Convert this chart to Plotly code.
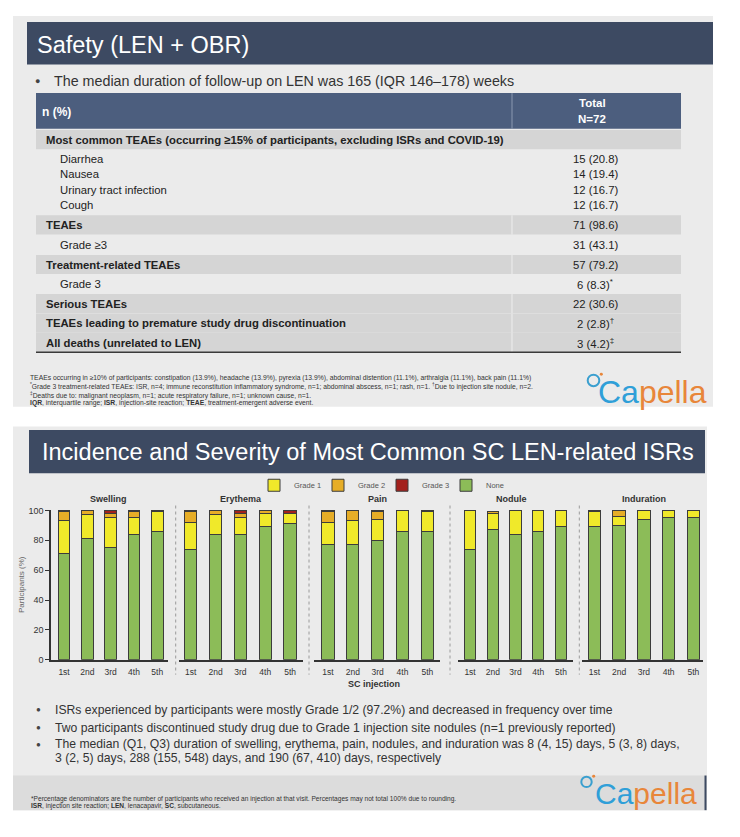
import plotly.graph_objects as go

# The page body has an 8px margin; positions below are given in page pixels.
PAGE_MARGIN = 8
W, H = 740 - 2 * PAGE_MARGIN, 837 - 2 * PAGE_MARGIN
def X(p):
    return (p - PAGE_MARGIN) / W
def Y(p):
    return 1 - (p - PAGE_MARGIN) / H

FONT = "Liberation Sans, Arial, sans-serif"

# ---------------- data ----------------
injections = ["1st", "2nd", "3rd", "4th", "5th"]
isr_types = ["Swelling", "Erythema", "Pain", "Nodule", "Induration"]
grade_names = ["None", "Grade 1", "Grade 2", "Grade 3"]

pct_none = {
    "Swelling":   [71, 81, 75, 84, 86],
    "Erythema":   [74, 84, 84, 89, 91],
    "Pain":       [77, 77, 80, 86, 86],
    "Nodule":     [74, 87, 84, 86, 89],
    "Induration": [89, 90, 94, 95, 95],
}
pct_grade1 = {
    "Swelling":   [22, 16, 20, 11, 13],
    "Erythema":   [18, 13, 11, 9, 7],
    "Pain":       [15, 16, 14, 14, 13],
    "Nodule":     [26, 11, 16, 14, 11],
    "Induration": [10, 6, 6, 5, 5],
}
pct_grade2 = {
    "Swelling":   [6, 3, 3, 4, 1],
    "Erythema":   [7, 3, 3, 2, 0],
    "Pain":       [7, 7, 5, 0, 1],
    "Nodule":     [0, 1, 0, 0, 0],
    "Induration": [1, 4, 0, 0, 0],
}
pct_grade3 = {
    "Swelling":   [1, 0, 2, 1, 0],
    "Erythema":   [1, 0, 2, 0, 2],
    "Pain":       [1, 0, 1, 0, 0],
    "Nodule":     [0, 0, 0, 0, 0],
    "Induration": [0, 0, 0, 0, 0],
}
y_ticks = [0, 20, 40, 60, 80, 100]

table_labels = [
    "Most common TEAEs (occurring ≥15% of participants, excluding ISRs and COVID-19)",
    "Diarrhea", "Nausea", "Urinary tract infection", "Cough",
    "TEAEs", "Grade ≥3", "Treatment-related TEAEs", "Grade 3",
    "Serious TEAEs", "TEAEs leading to premature study drug discontinuation",
    "All deaths (unrelated to LEN)",
]
table_values = [
    "", "15 (20.8)", "14 (19.4)", "12 (16.7)", "12 (16.7)",
    "71 (98.6)", "31 (43.1)", "57 (79.2)", "6 (8.3)<sup>*</sup>",
    "22 (30.6)", "2 (2.8)<sup>†</sup>", "3 (4.2)<sup>‡</sup>",
]
table_bold = [True, False, False, False, False, True, False, True, False, True, True, True]

# ---------------- styles ----------------
grade_colors = {"None": "#8cbc58", "Grade 1": "#f0e92a", "Grade 2": "#e6ad27", "Grade 3": "#a3201c"}
legend_rank = {"Grade 1": 1, "Grade 2": 2, "Grade 3": 3, "None": 4}
grade_data = {"None": pct_none, "Grade 1": pct_grade1, "Grade 2": pct_grade2, "Grade 3": pct_grade3}

SLIDE_BG = "#ebebeb"
TITLE_BG = "#3d4a62"
HEAD_BG = "#4c5e7e"
ROW_BG = "#d5d5d5"

fig = go.Figure()

for i, isr in enumerate(isr_types):
    xa = "x" if i == 0 else f"x{i+1}"
    for g in grade_names:
        vals = [v if v > 0 else None for v in grade_data[g][isr]]
        fig.add_trace(go.Bar(
            x=injections, y=vals, name=g, xaxis=xa, yaxis="y",
            marker=dict(color=grade_colors[g], line=dict(color="#3c3c3c", width=1)),
            showlegend=(i == 0), legendrank=legend_rank[g],
            hovertemplate=isr + " %{x}: %{y}%<extra>" + g + "</extra>",
        ))

# panel geometry: (left px, right px, range start, range end)
panels = [(51, 168, -0.56, 4.46), (179, 303, -0.47, 4.52), (314, 440, -0.56, 4.51),
          (458, 573, -0.53, 4.53), (582, 703, -0.50, 4.39)]
title_cx = [108.7, 240.8, 377.5, 511.7, 643.7]

axis_common = dict(showline=True, linecolor="#333333", linewidth=1.5, showgrid=False,
                   zeroline=False, fixedrange=True)
for i, (a, b, r0, r1) in enumerate(panels):
    key = "xaxis" if i == 0 else f"xaxis{i+1}"
    fig.layout[key] = dict(domain=[X(a), X(b)], anchor="y", range=[r0, r1], type="category",
                           ticks="outside", ticklen=3, tickcolor="rgba(0,0,0,0)",
                           tickfont=dict(size=8.5, color="#333333", family=FONT), **axis_common)

fig.update_layout(
    yaxis=dict(domain=[Y(663), Y(511.2)], anchor="x", range=[0, 100.5], tickvals=y_ticks,
               ticks="outside", ticklen=4, tickwidth=1, tickcolor="#333333",
               tickfont=dict(size=9, color="#333333", family=FONT),
               title=dict(text="Participants (%)", font=dict(size=8, color="#666666", family=FONT), standoff=3),
               **axis_common),
    barmode="stack", bargap=0.5,
    width=W, height=H, margin=dict(l=0, r=0, t=0, b=0),
    paper_bgcolor="white", plot_bgcolor="rgba(0,0,0,0)",
    font=dict(family=FONT, color="#222222"),
    legend=dict(orientation="h", x=X(254), y=Y(486.5), xanchor="left", yanchor="middle",
                font=dict(size=7.5, color="#555555", family=FONT), bgcolor="rgba(0,0,0,0)",
                entrywidth=19, entrywidthmode="pixels", traceorder="normal"),
)

shapes = []
def rect(x0, y0, x1, y1, color, layer="below"):
    shapes.append(dict(type="rect", xref="paper", yref="paper", x0=X(x0), x1=X(x1), y0=Y(y1), y1=Y(y0),
                       fillcolor=color, line=dict(width=0), layer=layer))
def line(x0, y0, x1, y1, color, width=1, dash="solid", layer="below"):
    shapes.append(dict(type="line", xref="paper", yref="paper", x0=X(x0), x1=X(x1), y0=Y(y0), y1=Y(y1),
                       line=dict(color=color, width=width, dash=dash), layer=layer))

# slide 1
rect(13, 12, 713, 407, SLIDE_BG)
rect(27, 18, 713, 61, TITLE_BG)
rect(36, 90, 681, 126, HEAD_BG)
line(512, 90, 512, 126, "#8a98b0")

row_cy = [137, 156.7, 172.3, 188.3, 203.3, 223.3, 243.3, 263.3, 283, 302.9, 322.6, 342.2]
for k, bold in enumerate(table_bold):
    if bold:
        rect(36, row_cy[k] - 9.7, 681, row_cy[k] + 9.7, ROW_BG)
        if k > 0:
            line(512, row_cy[k] - 9.7, 512, row_cy[k] + 9.7, "#eeeeee", 1)
line(36, 352, 681, 352, "#3a3a3a", 1.5)

# slide 2
rect(13, 427, 707, 815, SLIDE_BG)
rect(29, 430.7, 705, 474.3, TITLE_BG)
rect(13, 780, 707, 815, "#dcdcdc")
line(705.5, 780, 705.5, 815, "#3d4a62", 2)
for sx in [175.7, 309, 450, 579.3]:
    line(sx, 507, sx, 678, "#9a9a9a", 1, "dot")

# logo rings
for cx, cy, r in [(593.5, 380.5, 5.8), (586.5, 786.5, 5.2)]:
    shapes.append(dict(type="circle", xref="paper", yref="paper", x0=X(cx - r), x1=X(cx + r),
                       y0=Y(cy + r), y1=Y(cy - r), line=dict(color="#3a9fcf", width=2), layer="above"))
    shapes.append(dict(type="circle", xref="paper", yref="paper", x0=X(cx + r + 0.5), x1=X(cx + r + 3.5),
                       y0=Y(cy - r + 1), y1=Y(cy - r - 2), fillcolor="#e8863a", line=dict(width=0), layer="above"))

fig.update_layout(shapes=shapes)

ann = []
def text(x, y, s, size, color="#222222", xanchor="left", bold=False, yanchor="middle", align="left"):
    if bold:
        s = "<b>" + s + "</b>"
    ann.append(dict(x=X(x), y=Y(y), xref="paper", yref="paper", text=s, showarrow=False,
                    xanchor=xanchor, yanchor=yanchor, align=align,
                    font=dict(size=size, color=color, family=FONT)))

# slide 1 texts
text(35, 41.7, "Safety (LEN + OBR)", 23.5, "white")
text(37.5, 77.3, "●", 9, "#444444", xanchor="center")
text(52, 77.3, "The median duration of follow-up on LEN was 165 (IQR 146–178) weeks", 14.3, "#333333")
text(40, 109, "n (%)", 12, "white", bold=True)
text(592, 100, "Total", 11.5, "white", xanchor="center", bold=True)
text(592, 116.5, "N=72", 11.5, "white", xanchor="center", bold=True)
for k, lab in enumerate(table_labels):
    lx = 43.6 if table_bold[k] else 57.8
    text(lx, row_cy[k], lab, 11.3, "#222222", bold=table_bold[k])
    if table_values[k]:
        text(595, row_cy[k], table_values[k], 11.3, "#222222", xanchor="center")

foot1 = [
    "TEAEs occurring in ≥10% of participants: constipation (13.9%), headache (13.9%), pyrexia (13.9%), abdominal distention (11.1%), arthralgia (11.1%), back pain (11.1%)",
    "<sup>*</sup>Grade 3 treatment-related TEAEs: ISR, n=4; immune reconstitution inflammatory syndrome, n=1; abdominal abscess, n=1; rash, n=1. <sup>†</sup>Due to injection site nodule, n=2.",
    "<sup>‡</sup>Deaths due to: malignant neoplasm, n=1; acute respiratory failure, n=1; unknown cause, n=1.",
    "<b>IQR</b>, interquartile range; <b>ISR</b>, injection-site reaction; <b>TEAE</b>, treatment-emergent adverse event.",
]
for k, s in enumerate(foot1):
    text(28.4, [377.7, 386.7, 395.3, 403][k], s, 6.75, "#333333")

logo = '<span style="color:#2f9fd8">Ca</span><span style="color:#e8863a">pella</span>'
text(652, 392, logo, 32, xanchor="center")
text(646, 798, logo, 30, xanchor="center")

# slide 2 texts
text(40.3, 453, "Incidence and Severity of Most Common SC LEN-related ISRs", 23.5, "white")
for isr, cx in zip(isr_types, title_cx):
    text(cx, 500, isr, 9, "#333333", xanchor="center", bold=True)
text(374, 687.5, "SC injection", 9, "#333333", xanchor="center", bold=True)

bul2 = [
    (713.5, True, "ISRs experienced by participants were mostly Grade 1/2 (97.2%) and decreased in frequency over time"),
    (731.5, True, "Two participants discontinued study drug due to Grade 1 injection site nodules (n=1 previously reported)"),
    (748.5, True, "The median (Q1, Q3) duration of swelling, erythema, pain, nodules, and induration was 8 (4, 15) days, 5 (3, 8) days,"),
    (762.5, False, "3 (2, 5) days, 288 (155, 548) days, and 190 (67, 410) days, respectively"),
]
for yy, dot, s in bul2:
    if dot:
        text(38.5, yy, "●", 8, "#444444", xanchor="center")
    text(53, yy, s, 12.2, "#333333")

text(29, 803.3, "*Percentage denominators are the number of participants who received an injection at that visit. Percentages may not total 100% due to rounding.", 6.6, "#333333")
text(29, 811, "<b>ISR</b>, injection site reaction; <b>LEN</b>, lenacapavir, <b>SC</b>, subcutaneous.", 6.6, "#333333")

fig.update_layout(annotations=ann)
fig.write_html("out.html")
